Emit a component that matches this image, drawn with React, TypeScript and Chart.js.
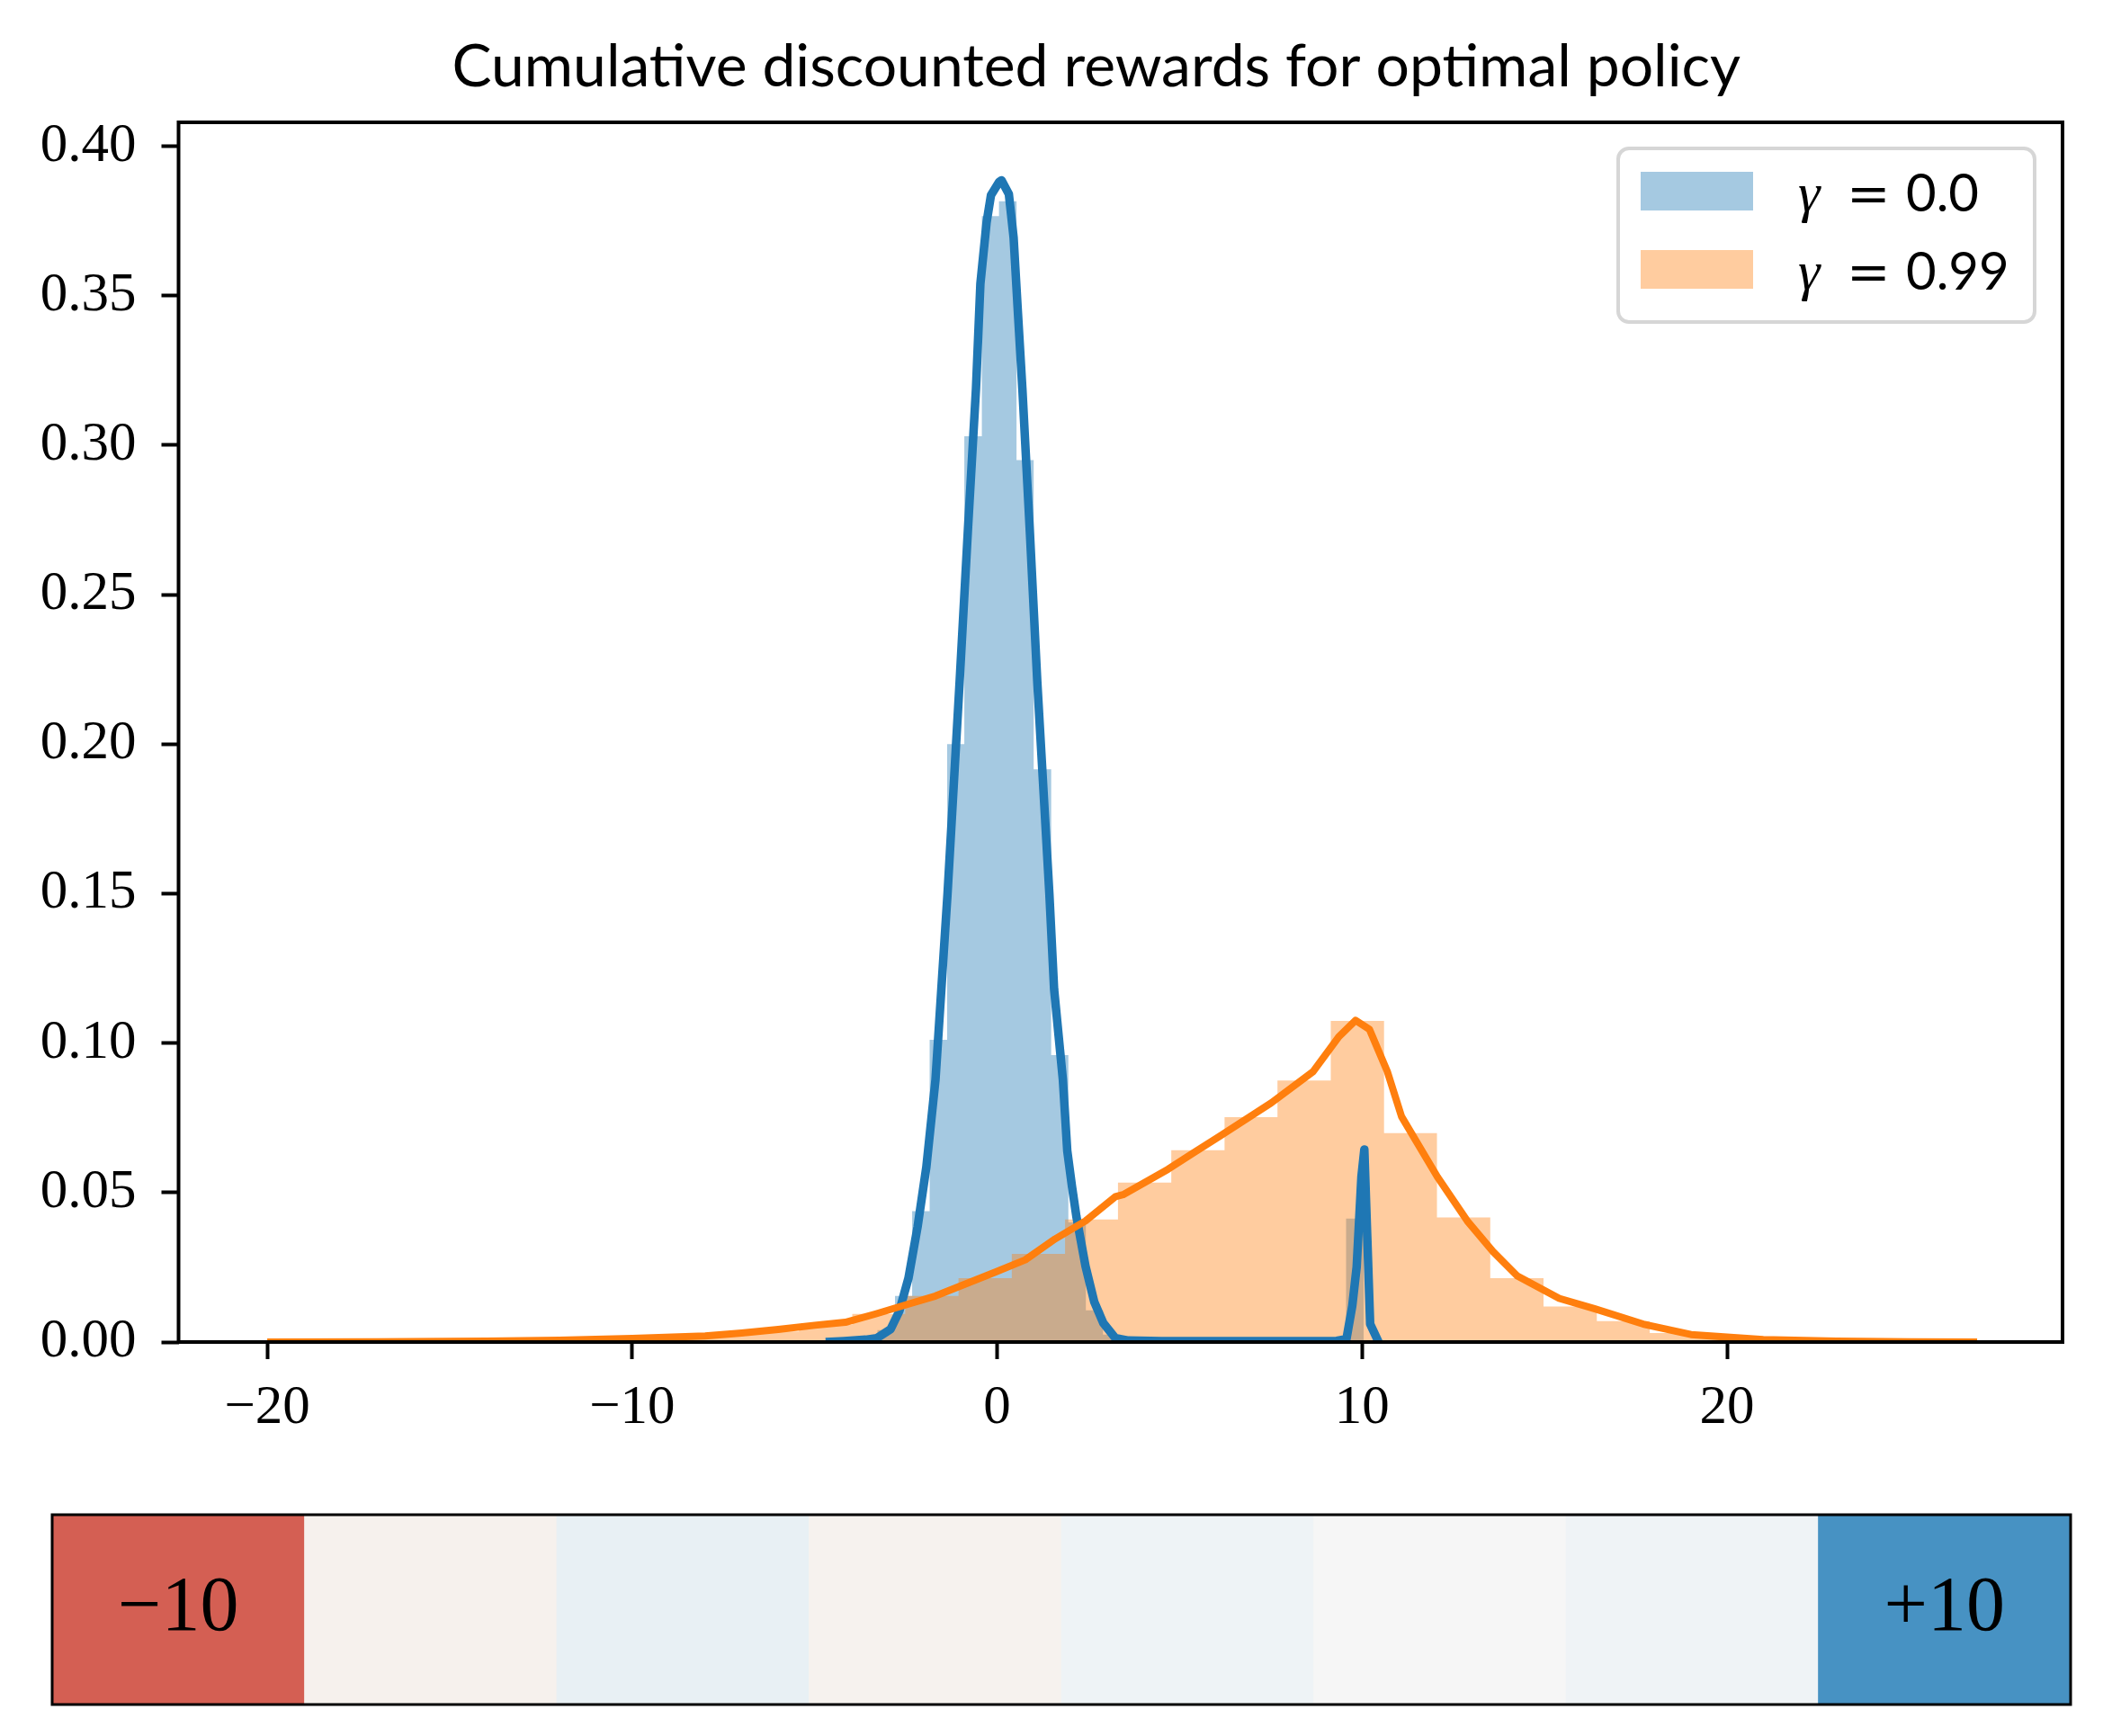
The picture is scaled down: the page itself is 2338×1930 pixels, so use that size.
import { useEffect, useRef } from 'react';
import { Chart, registerables } from 'chart.js';

Chart.register(...registerables);

const WIDTH = 2338;
const MAIN_HEIGHT = 1640;
const BAR_HEIGHT = 290;

// histogram, gamma = 0.0 : bin edges and density per bin
const blueBinEdges = [
  -3.75, -3.28, -2.8, -2.33, -1.85, -1.37, -0.9, -0.42, 0.05, 0.53, 1.0, 1.48, 1.95, 2.43, 2.9,
  3.38, 3.86, 4.33, 4.81, 5.28, 5.76, 6.23, 6.71, 7.18, 7.66, 8.13, 8.61, 9.09, 9.56, 10.04,
];
const blueBinDensity = [
  0.001, 0.004, 0.0154, 0.0438, 0.1011, 0.2, 0.303, 0.3766, 0.3816, 0.295, 0.1916, 0.096, 0.04,
  0.0106, 0.0025, 0.0005, 0, 0, 0, 0, 0, 0, 0, 0, 0, 0, 0, 0, 0.0413,
];

// histogram, gamma = 0.99
const orangeBinEdges = [
  -20.0, -18.54, -17.09, -15.63, -14.17, -12.72, -11.26, -9.8, -8.34, -6.89, -5.43, -3.97, -2.52,
  -1.06, 0.4, 1.86, 3.31, 4.77, 6.23, 7.68, 9.14, 10.6, 12.05, 13.51, 14.97, 16.43, 17.88, 19.34,
  20.8, 22.25, 23.71, 25.17, 26.62,
];
const orangeBinDensity = [
  0.0001, 0.0001, 0.0001, 0.0002, 0.0003, 0.0005, 0.0008, 0.0012, 0.002, 0.0035, 0.0058, 0.0094,
  0.0154, 0.0214, 0.0295, 0.041, 0.0533, 0.0642, 0.0752, 0.0875, 0.1074, 0.0699, 0.0417, 0.0214,
  0.0119, 0.007, 0.003, 0.0012, 0.0006, 0.0003, 0.0002, 0.0001,
];

// kernel density estimates
const blueKdeX = [
  -4.7, -4.2, -3.6, -3.3, -2.92, -2.68, -2.43, -2.18, -1.94, -1.69, -1.53, -1.36, -1.03, -0.8,
  -0.58, -0.46, -0.29, -0.17, 0.05, 0.12, 0.32, 0.45, 0.57, 0.69, 0.9, 1.1, 1.43, 1.56, 1.8, 1.92,
  2.05, 2.17, 2.42, 2.66, 2.91, 3.24, 3.6, 4.5, 6.0, 8.0, 9.3, 9.57, 9.73, 9.85, 9.98, 10.06,
  10.14, 10.22, 10.45,
];
const blueKdeY = [
  0, 0.0003, 0.0008, 0.0013, 0.0043, 0.0104, 0.0214, 0.0386, 0.0586, 0.0878, 0.118, 0.15, 0.2206,
  0.272, 0.319, 0.354, 0.3745, 0.3836, 0.388, 0.3886, 0.384, 0.3695, 0.344, 0.319, 0.27, 0.2206,
  0.15, 0.118, 0.0878, 0.064, 0.052, 0.042, 0.0254, 0.0134, 0.0063, 0.0013, 0.0005, 0.0003,
  0.0003, 0.0003, 0.0004, 0.001, 0.0121, 0.0251, 0.0553, 0.0644, 0.0352, 0.006, 0,
];
const orangeKdeX = [
  -20.0, -17, -14, -12, -10, -8, -7, -6, -5, -4.16, -3.33, -2.51, -1.69, -0.87, -0.05, 0.77,
  1.59, 2.42, 3.24, 3.45, 4.68, 5.39, 6.1, 7.51, 8.66, 9.36, 9.82, 10.2, 10.69, 11.08, 12.06,
  12.9, 13.59, 14.25, 15.4, 16.38, 17.7, 19.01, 20.99, 23, 25, 26.85,
];
const orangeKdeY = [
  0, 0.0001, 0.0003, 0.0006, 0.0012, 0.002, 0.003, 0.0042, 0.0056, 0.0066, 0.0094, 0.0124,
  0.0154, 0.0194, 0.0234, 0.0275, 0.0345, 0.0405, 0.0486, 0.0493, 0.0578, 0.0634, 0.0689, 0.08,
  0.0905, 0.1021, 0.1076, 0.1046, 0.0905, 0.0754, 0.0553, 0.0402, 0.0302, 0.0221, 0.0146,
  0.0111, 0.006, 0.0025, 0.0008, 0.0003, 0.0001, 0,
];

const xTicks = [-20, -10, 0, 10, 20];
const xTickLabels = ['\u221220', '\u221210', '0', '10', '20'];
const yTicks = [0, 0.05, 0.1, 0.15, 0.2, 0.25, 0.3, 0.35, 0.4];
const yTickLabels = ['0.00', '0.05', '0.10', '0.15', '0.20', '0.25', '0.30', '0.35', '0.40'];

const gammaLabels = ['0.0', '0.99'];
const titleText = 'Cumulative discounted rewards for optimal policy';

// reward strip below the plot
const cellLabels = ['\u221210', '', '', '', '', '', '', '+10'];
const cellValues = [1, 1, 1, 1, 1, 1, 1, 1];
const cellColors = ['#d45f53', '#f6f1ed', '#e8f0f4', '#f6f2ee', '#eef3f6', '#f6f6f6', '#eff3f6', '#4792c3'];

const BLUE = '#1f77b4';
const ORANGE = '#ff7f0e';
const BLUE_FILL = 'rgba(31, 119, 180, 0.4)';
const ORANGE_FILL = 'rgba(255, 127, 14, 0.4)';
const SERIF = '"Liberation Serif", "DejaVu Serif", serif';
const SANS = 'Lato, "DejaVu Sans", sans-serif';

function zip(xs: number[], ys: number[]) {
  return xs.map((x, i) => ({ x, y: ys[i] }));
}

// points for a stepped, filled outline of a histogram
function histSteps(edges: number[], dens: number[]) {
  const pts = [{ x: edges[0], y: 0 }];
  dens.forEach((d, i) => pts.push({ x: edges[i], y: d }));
  pts.push({ x: edges[edges.length - 1], y: 0 });
  return pts;
}

const framePlugin = (width: number) => ({
  id: 'frame' + width,
  afterDraw(chart: any) {
    const { ctx, chartArea: a } = chart;
    ctx.save();
    ctx.strokeStyle = '#000';
    ctx.lineWidth = width;
    ctx.strokeRect(a.left, a.top, a.right - a.left, a.bottom - a.top);
    ctx.restore();
  },
});

// title sits a little left of the axes centre, as in the original figure
const titlePlugin = {
  id: 'figTitle',
  afterDraw(chart: any) {
    const { ctx, chartArea: a } = chart;
    ctx.save();
    ctx.fillStyle = '#000';
    ctx.font = `66px ${SANS}`;
    ctx.textAlign = 'center';
    ctx.textBaseline = 'middle';
    ctx.fillText(titleText, (a.left + a.right) / 2 - 27, a.top - 61);
    ctx.restore();
  },
};

const legendPlugin = {
  id: 'gammaLegend',
  afterDraw(chart: any) {
    const { ctx, chartArea: a } = chart;
    const left = a.right - 494;
    const top = a.top + 29;
    ctx.save();
    ctx.beginPath();
    ctx.roundRect(left, top, 463, 193, 12);
    ctx.fillStyle = 'rgba(255,255,255,0.8)';
    ctx.fill();
    ctx.lineWidth = 4;
    ctx.strokeStyle = '#d6d6d6';
    ctx.stroke();
    const fills = [BLUE_FILL, ORANGE_FILL];
    gammaLabels.forEach((g, i) => {
      const py = top + 26 + i * 87;
      ctx.fillStyle = fills[i];
      ctx.fillRect(left + 25, py, 125, 43);
      const base = py + 44;
      ctx.fillStyle = '#000';
      ctx.textBaseline = 'alphabetic';
      ctx.textAlign = 'left';
      ctx.font = `italic 62px ${SERIF}`;
      ctx.fillText('\u03b3', left + 200, base);
      ctx.font = `58px "DejaVu Serif", serif`;
      ctx.fillText('=', left + 254, base);
      ctx.font = `58px ${SANS}`;
      ctx.fillText(g, left + 320, base);
    });
    ctx.restore();
  },
};

const cellTextPlugin = {
  id: 'cellText',
  afterDatasetsDraw(chart: any) {
    const { ctx } = chart;
    const meta = chart.getDatasetMeta(0);
    ctx.save();
    ctx.fillStyle = '#000';
    ctx.font = `86px ${SERIF}`;
    ctx.textAlign = 'center';
    ctx.textBaseline = 'middle';
    meta.data.forEach((el: any, i: number) => {
      if (!cellLabels[i]) return;
      ctx.fillText(cellLabels[i], el.x, (el.y + el.base) / 2);
    });
    ctx.restore();
  },
};

export default function App() {
  const mainRef = useRef<HTMLCanvasElement>(null);
  const barRef = useRef<HTMLCanvasElement>(null);

  useEffect(() => {
    if (!mainRef.current || !barRef.current) return;

    const tickFont = { family: SERIF, size: 61 };
    const tickGrid = {
      display: true,
      drawOnChartArea: false,
      drawTicks: true,
      tickLength: 19,
      tickWidth: 4,
      tickColor: '#000',
    };

    const main = new Chart(mainRef.current, {
      type: 'line',
      data: {
        datasets: [
          {
            label: 'kde 0.99',
            data: zip(orangeKdeX, orangeKdeY),
            borderColor: ORANGE,
            borderWidth: 8,
            borderJoinStyle: 'round',
            pointRadius: 0,
            tension: 0,
            fill: false,
            order: 0,
          },
          {
            label: 'kde 0.0',
            data: zip(blueKdeX, blueKdeY),
            borderColor: BLUE,
            borderWidth: 9.5,
            borderJoinStyle: 'round',
            pointRadius: 0,
            tension: 0,
            fill: false,
            order: 1,
          },
          {
            label: 'gamma 0.99',
            data: histSteps(orangeBinEdges, orangeBinDensity),
            stepped: true,
            borderColor: 'rgba(0,0,0,0)',
            borderWidth: 0,
            backgroundColor: ORANGE_FILL,
            fill: 'origin',
            pointRadius: 0,
            order: 2,
          },
          {
            label: 'gamma 0.0',
            data: histSteps(blueBinEdges, blueBinDensity),
            stepped: true,
            borderColor: 'rgba(0,0,0,0)',
            borderWidth: 0,
            backgroundColor: BLUE_FILL,
            fill: 'origin',
            pointRadius: 0,
            order: 3,
          },
        ],
      },
      options: {
        animation: false,
        responsive: false,
        devicePixelRatio: 1,
        events: [],
        layout: { padding: { left: 0, right: 45, top: 136, bottom: 0 } },
        plugins: {
          legend: { display: false },
          tooltip: { enabled: false },
          title: { display: false },
        },
        scales: {
          x: {
            type: 'linear',
            min: -22.43,
            max: 29.19,
            afterBuildTicks: (scale: any) => {
              scale.ticks = xTicks.map((v) => ({ value: v }));
            },
            afterFit: (scale: any) => {
              scale.height = 148;
            },
            ticks: {
              color: '#000',
              font: tickFont,
              padding: 18,
              maxRotation: 0,
              callback: (_v: any, i: number) => xTickLabels[i],
            },
            grid: tickGrid,
            border: { display: false },
          },
          y: {
            type: 'linear',
            min: 0,
            max: 0.408,
            afterBuildTicks: (scale: any) => {
              scale.ticks = yTicks.map((v) => ({ value: v }));
            },
            afterFit: (scale: any) => {
              scale.width = 198.5;
            },
            ticks: {
              color: '#000',
              font: tickFont,
              padding: 28,
              callback: (_v: any, i: number) => yTickLabels[i],
            },
            grid: tickGrid,
            border: { display: false },
          },
        },
      },
      plugins: [framePlugin(4), titlePlugin, legendPlugin],
    } as any);

    const strip = new Chart(barRef.current, {
      type: 'bar',
      data: {
        labels: cellLabels,
        datasets: [
          {
            data: cellValues,
            backgroundColor: cellColors,
            borderWidth: 0,
            barPercentage: 1,
            categoryPercentage: 1,
          },
        ],
      },
      options: {
        animation: false,
        responsive: false,
        devicePixelRatio: 1,
        events: [],
        layout: { padding: { left: 58, right: 36, top: 44, bottom: 35 } },
        plugins: { legend: { display: false }, tooltip: { enabled: false } },
        scales: {
          x: { display: false },
          y: { display: false, min: 0, max: 1 },
        },
      },
      plugins: [cellTextPlugin, framePlugin(3)],
    } as any);

    return () => {
      main.destroy();
      strip.destroy();
    };
  }, []);

  return (
    <div
      style={{
        position: 'absolute',
        left: 0,
        top: 0,
        width: WIDTH,
        height: MAIN_HEIGHT + BAR_HEIGHT,
        background: '#fff',
      }}
    >
      <canvas
        ref={mainRef}
        width={WIDTH}
        height={MAIN_HEIGHT}
        style={{ position: 'absolute', left: 0, top: 0, width: WIDTH, height: MAIN_HEIGHT }}
      />
      <canvas
        ref={barRef}
        width={WIDTH}
        height={BAR_HEIGHT}
        style={{ position: 'absolute', left: 0, top: MAIN_HEIGHT, width: WIDTH, height: BAR_HEIGHT }}
      />
    </div>
  );
}
